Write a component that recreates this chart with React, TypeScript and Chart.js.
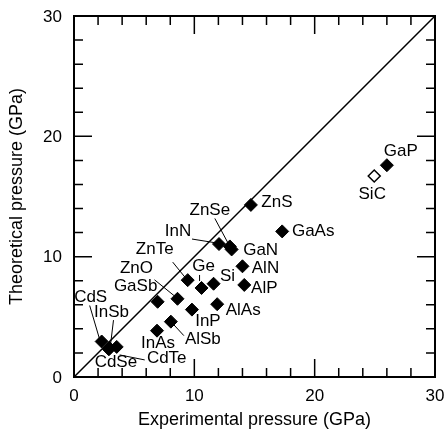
import React, { useEffect, useRef } from "react";
import { Chart, registerables } from "chart.js";

Chart.register(...registerables);

// Data
const names = ["CdS", "InSb", "CdSe", "CdTe", "InAs", "AlSb", "InP", "AlAs", "GaSb", "ZnO", "ZnTe", "Ge", "Si", "InN", "ZnSe", "GaN", "ZnS", "GaAs", "AlN", "AlP", "GaP"];
const experimental = [2.3, 2.95, 2.9, 3.55, 6.9, 8.05, 9.8, 11.9, 6.95, 8.6, 9.45, 10.6, 11.6, 12.05, 12.95, 13.1, 14.7, 17.3, 14.0, 14.15, 26.0];
const theoretical = [2.95, 2.4, 2.3, 2.5, 3.85, 4.6, 5.6, 6.05, 6.25, 6.5, 8.05, 7.4, 7.75, 11.05, 10.85, 10.6, 14.3, 12.1, 9.2, 7.65, 17.6];

const openNames = ["SiC"];
const openExperimental = [24.95];
const openTheoretical = [16.7];

const axisTicks = [0, 10, 20, 30];
const tickLabels = ["0", "10", "20", "30"];

// Label placement (pixel offsets from the marker), kept separate from data
const labelOffsets: [number, number][] = [
  [-11, -44], [2, -36], [7, 13], [50, 11], [1, 13], [32, 18], [16, 12], [26, 6],
  [-22, -15], [-41, -30], [-33, -31], [2, -22], [14, -7], [-41, -13], [-20, -36],
  [29, 1], [26, -3], [31, 0], [23, 2], [20, 3], [14, -14],
];
const openLabelOffsets: [number, number][] = [[-2, 18]];
const leaders: (null | [number, number, number, number])[] = [
  [-12, -36, -2, -2], [4, -28, 1, -3], null, [3, 8, 28, 13], null, [1, 1, 13, 14], null, null,
  null, [-23, -19, -2, -2], [-15, -18, -2, -2], [-2, -13, -2, -7], null, [-27, -5, -2, -1], [-15, -28, 0, 0],
  null, null, null, null, null, null,
];

const FONT = "'Liberation Sans', Arial, Helvetica, sans-serif";

const labelPlugin = {
  id: "pointLabels",
  afterDatasetsDraw(chart: any) {
    const ctx = chart.ctx;
    const xs = chart.scales.x;
    const ys = chart.scales.y;
    ctx.save();
    ctx.fillStyle = "#000";
    ctx.strokeStyle = "#000";
    ctx.lineWidth = 1;
    ctx.font = `17px ${FONT}`;
    ctx.textAlign = "center";
    ctx.textBaseline = "middle";
    const drawOne = (name: string, ex: number, th: number, off: [number, number], lead: any) => {
      const px = xs.getPixelForValue(ex);
      const py = ys.getPixelForValue(th);
      if (lead) {
        ctx.beginPath();
        ctx.moveTo(px + lead[0], py + lead[1]);
        ctx.lineTo(px + lead[2], py + lead[3]);
        ctx.stroke();
      }
      ctx.fillText(name, px + off[0], py + off[1]);
    };
    names.forEach((n, i) => drawOne(n, experimental[i], theoretical[i], labelOffsets[i], leaders[i]));
    openNames.forEach((n, i) => drawOne(n, openExperimental[i], openTheoretical[i], openLabelOffsets[i], null));
    ctx.restore();
  },
};

const framePlugin = {
  id: "frame",
  afterDraw(chart: any) {
    const ctx = chart.ctx;
    const { left, right, top, bottom } = chart.chartArea;
    const xs = chart.scales.x;
    const ys = chart.scales.y;
    ctx.save();
    ctx.strokeStyle = "#000";
    ctx.lineWidth = 1.5;
    for (let v = 2; v < 30; v += 2) {
      const len = v % 10 === 0 ? 18 : 9;
      const px = xs.getPixelForValue(v);
      const py = ys.getPixelForValue(v);
      ctx.beginPath();
      ctx.moveTo(px, bottom); ctx.lineTo(px, bottom - len);
      ctx.moveTo(px, top); ctx.lineTo(px, top + len);
      ctx.moveTo(left, py); ctx.lineTo(left + len, py);
      ctx.moveTo(right, py); ctx.lineTo(right - len, py);
      ctx.stroke();
    }
    ctx.lineWidth = 2;
    ctx.strokeRect(left, top, right - left, bottom - top);
    // tick labels
    ctx.fillStyle = "#000";
    ctx.font = `17px ${FONT}`;
    ctx.textBaseline = "middle";
    ctx.textAlign = "right";
    axisTicks.forEach((v, i) => ctx.fillText(tickLabels[i], left - 12, ys.getPixelForValue(v) + 1));
    ctx.textAlign = "center";
    axisTicks.forEach((v, i) => ctx.fillText(tickLabels[i], xs.getPixelForValue(v), bottom + 19));
    ctx.restore();
  },
};

export default function App() {
  const ref = useRef<HTMLCanvasElement | null>(null);
  useEffect(() => {
    if (!ref.current) return;
    const chart = new Chart(ref.current, {
      type: "scatter",
      data: {
        datasets: [
          {
            type: "line",
            data: [{ x: 0, y: 0 }, { x: 30, y: 30 }],
            borderColor: "#000",
            borderWidth: 1.5,
            pointRadius: 0,
            showLine: true,
          } as any,
          {
            data: names.map((_, i) => ({ x: experimental[i], y: theoretical[i] })),
            pointStyle: "rectRot",
            pointRadius: 6.5,
            backgroundColor: "#000",
            borderColor: "#000",
            borderWidth: 1,
          },
          {
            data: openNames.map((_, i) => ({ x: openExperimental[i], y: openTheoretical[i] })),
            pointStyle: "rectRot",
            pointRadius: 6,
            backgroundColor: "#fff",
            borderColor: "#000",
            borderWidth: 1.5,
          },
        ],
      },
      options: {
        animation: false,
        responsive: false,
        devicePixelRatio: 1,
        layout: { padding: { left: 0, top: 16, right: 9, bottom: 0 } },
        plugins: { legend: { display: false }, tooltip: { enabled: false } },
        scales: {
          x: {
            type: "linear",
            min: 0,
            max: 30,
            afterFit: (s: any) => { s.height = 55; },
            afterBuildTicks: (s: any) => { s.ticks = axisTicks.map((v) => ({ value: v })); },
            grid: { display: false, drawTicks: false, tickLength: 0 },
            border: { display: false },
            ticks: { display: false },
            title: { display: true, text: "Experimental pressure (GPa)", color: "#000", font: { family: FONT, size: 18 }, padding: { top: 0, bottom: 1 } },
          },
          y: {
            type: "linear",
            min: 0,
            max: 30,
            afterFit: (s: any) => { s.width = 74; },
            afterBuildTicks: (s: any) => { s.ticks = axisTicks.map((v) => ({ value: v })); },
            grid: { display: false, drawTicks: false, tickLength: 0 },
            border: { display: false },
            ticks: { display: false },
            title: { display: true, text: "Theoretical pressure (GPa)", color: "#000", font: { family: FONT, size: 18 }, padding: { top: 6, bottom: 0 } },
          },
        },
      } as any,
      plugins: [labelPlugin, framePlugin],
    });
    return () => chart.destroy();
  }, []);
  return (
    <div style={{ position: "fixed", left: 0, top: 0, width: 444, height: 432, background: "#fff" }}>
      <canvas ref={ref} width={444} height={432} style={{ width: 444, height: 432 }} />
    </div>
  );
}
